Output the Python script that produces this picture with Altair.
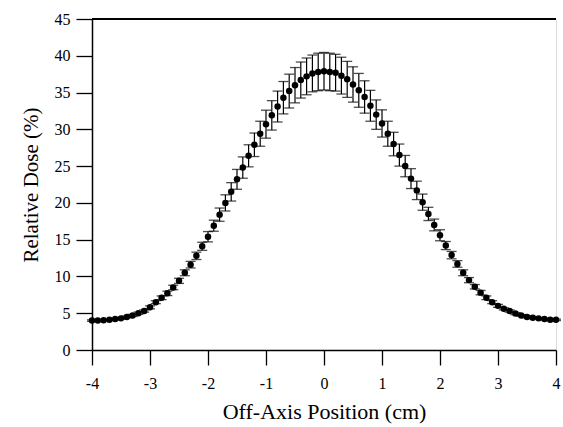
import altair as alt
import pandas as pd

positions = [round(-4 + 0.1 * i, 1) for i in range(81)]

dose = [
    4.0, 4.0, 4.05, 4.1, 4.2, 4.3, 4.5, 4.7, 5.0, 5.3,
    5.8, 6.5, 7.1, 7.7, 8.5, 9.4, 10.5, 11.6, 12.8, 14.1,
    15.4, 16.9, 18.4, 20.0, 21.5, 23.2, 24.8, 26.4, 27.9, 29.4,
    30.7, 31.9, 33.1, 34.3, 35.2, 36.0, 36.7, 37.2, 37.6, 37.8,
    37.9,
    37.8, 37.7, 37.3, 36.8, 36.1, 35.3, 34.4, 33.2, 32.0, 30.8,
    29.4, 28.0, 26.5, 25.0, 23.3, 21.7, 20.1, 18.5, 17.0, 15.6,
    14.2, 12.9, 11.7, 10.5, 9.5, 8.6, 7.8, 7.1, 6.5, 6.0,
    5.6, 5.3, 4.95, 4.7, 4.5, 4.4, 4.3, 4.2, 4.1, 4.1,
]

error = [
    0.1, 0.1, 0.1, 0.1, 0.1, 0.12, 0.12, 0.15, 0.15, 0.15,
    0.2, 0.2, 0.25, 0.3, 0.3, 0.35, 0.4, 0.45, 0.5, 0.55,
    0.7, 0.75, 0.9, 1.1, 1.25, 1.35, 1.45, 1.5, 1.6, 1.7,
    1.9, 2.0, 2.1, 2.2, 2.3, 2.4, 2.45, 2.5, 2.5, 2.55,
    2.55,
    2.55, 2.5, 2.5, 2.45, 2.4, 2.3, 2.2, 2.1, 2.0, 1.85,
    1.7, 1.6, 1.5, 1.45, 1.35, 1.25, 1.1, 0.9, 0.8, 0.75,
    0.55, 0.5, 0.45, 0.4, 0.35, 0.3, 0.3, 0.25, 0.2, 0.2,
    0.15, 0.15, 0.15, 0.12, 0.12, 0.1, 0.1, 0.1, 0.1, 0.1,
]

x_ticks = [-4, -3, -2, -1, 0, 1, 2, 3, 4]
y_ticks = [0, 5, 10, 15, 20, 25, 30, 35, 40, 45]

df = pd.DataFrame({"x": positions, "y": dose, "e": error})
df["lo"] = df["y"] - df["e"]
df["hi"] = df["y"] + df["e"]

FONT = "Liberation Serif"

xscale = alt.Scale(domain=[-4, 4], nice=False, zero=False)
yscale = alt.Scale(domain=[0, 45], nice=False, zero=False)

label_expr = "datum.value < 0 ? '-' + abs(datum.value) : '' + datum.value"

xaxis = alt.Axis(
    values=x_ticks, title="Off-Axis Position (cm)", labelExpr=label_expr,
    grid=False, tickSize=15, tickWidth=1.3, domainWidth=1.5, domainColor="black",
    tickColor="black", labelFont=FONT, labelFontSize=16, labelColor="black",
    labelPadding=10, titleFont=FONT, titleFontSize=22, titleFontWeight="normal",
    titleColor="black", titlePadding=10, labelFlush=False, labelOverlap=False,
)
yaxis = alt.Axis(
    values=y_ticks, title="Relative Dose (%)", labelExpr=label_expr,
    grid=False, tickSize=16, tickWidth=1.3, domainWidth=1.5, domainColor="black",
    tickColor="black", labelFont=FONT, labelFontSize=16, labelColor="black",
    labelPadding=6, titleFont=FONT, titleFontSize=21, titleFontWeight="normal",
    titleColor="black", titlePadding=13, labelFlush=False, labelOverlap=False,
)

base = alt.Chart(df)

X = alt.X("x:Q", scale=xscale, axis=xaxis)

bars = base.mark_rule(color="black", strokeWidth=1.2).encode(
    x=X,
    y=alt.Y("lo:Q", scale=yscale, axis=yaxis),
    y2="hi:Q",
)
cap_top = base.mark_tick(color="black", orient="horizontal", size=10, thickness=1.3).encode(
    x=X, y=alt.Y("hi:Q", scale=yscale, axis=yaxis)
)
cap_bot = base.mark_tick(color="black", orient="horizontal", size=10, thickness=1.3).encode(
    x=X, y=alt.Y("lo:Q", scale=yscale, axis=yaxis)
)
dots = base.mark_circle(color="black", opacity=1, size=42).encode(
    x=X, y=alt.Y("y:Q", scale=yscale, axis=yaxis)
)
frame = alt.Chart(df).mark_rule(color="black", strokeWidth=1.5).encode(
    x=alt.value(0), x2=alt.value(464), y=alt.value(0)
)

chart = (
    alt.layer(bars, cap_top, cap_bot, dots, frame)
    .properties(
        width=464, height=331,
        autosize=alt.AutoSizeParams(type="none"),
        padding={"left": 92, "top": 19, "right": 7, "bottom": 77},
    )
    .configure_view(stroke="black", strokeWidth=1.5)
    .configure(background="white")
)

chart.save("out.html", embed_options={"renderer": "svg", "actions": False})
